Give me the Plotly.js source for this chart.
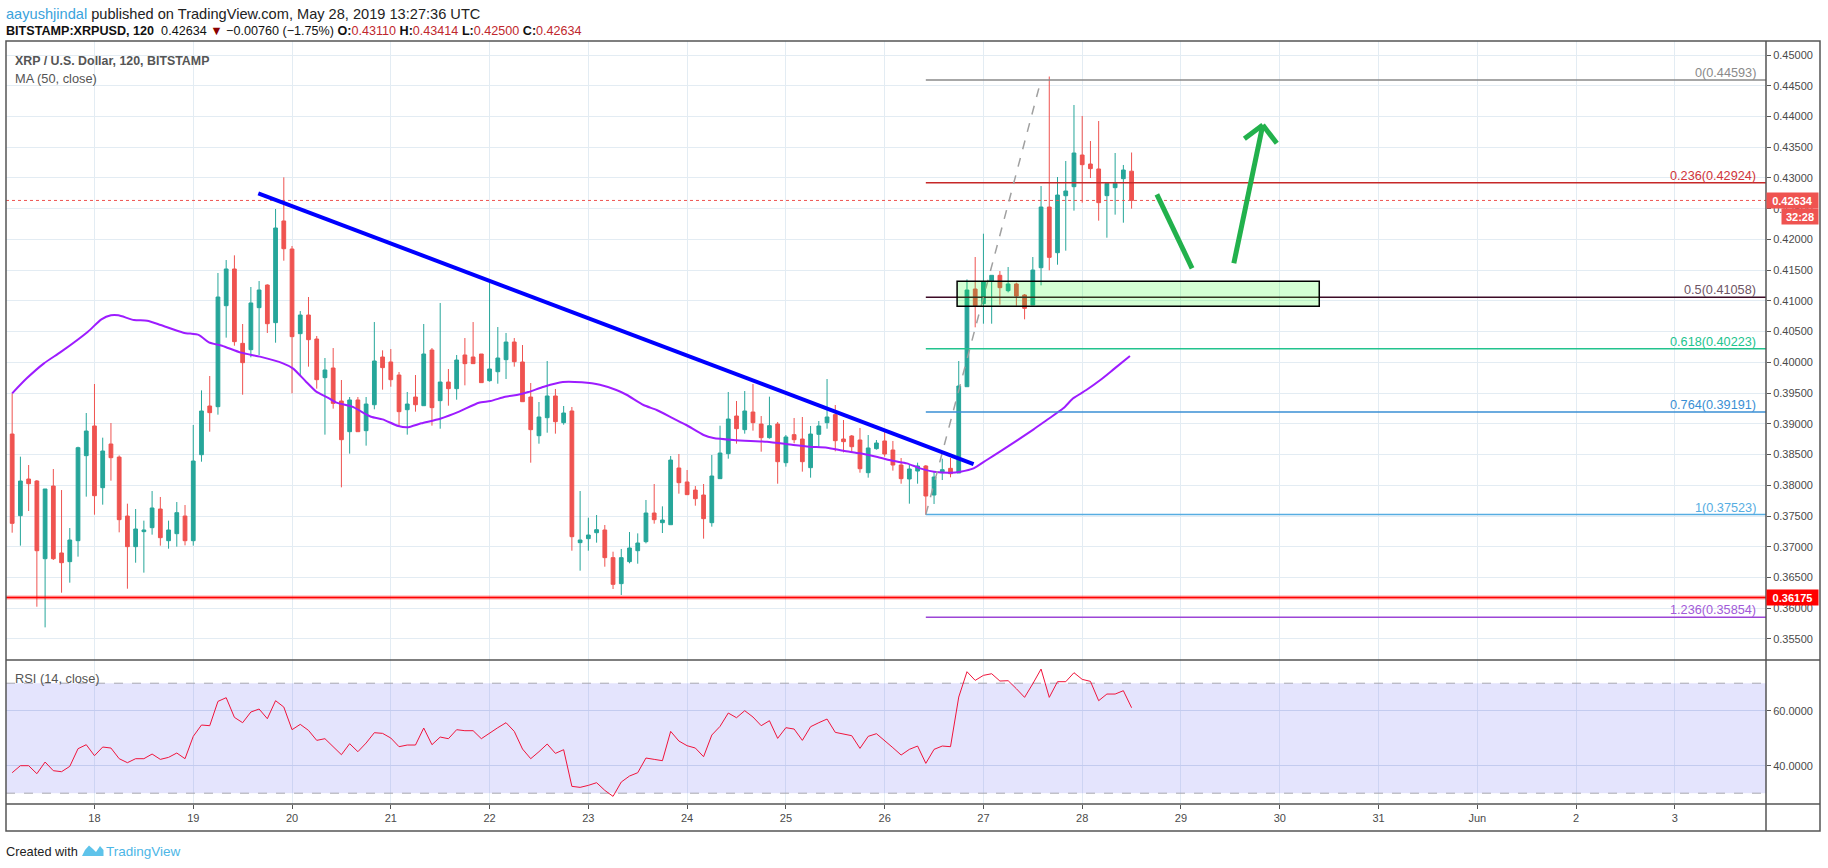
<!DOCTYPE html>
<html>
<head>
<meta charset="utf-8">
<script src="https://cdn.plot.ly/plotly-3.0.1.min.js"></script>
<style>html,body{margin:0;padding:0;background:#fff;}#chart{width:1828px;height:868px;}</style>
</head>
<body>
<div id="chart"></div>
<script>
// ---------- DATA ----------
const startTime = "2019-05-17 04:00"; // first 2h candle
const openPrice = [0.38834,0.37506,0.38102,0.38070,0.36806,0.37988,0.36899,0.36758,0.37099,0.38482,0.38965,0.37961,0.38672,0.38459,0.37500,0.37002,0.37246,0.37311,0.37614,0.37099,0.37213,0.37500,0.37099,0.38498,0.39290,0.39279,0.40922,0.41519,0.40309,0.40206,0.40890,0.41258,0.40646,0.42300,0.41844,0.40467,0.40770,0.40380,0.39751,0.39908,0.39371,0.38872,0.39388,0.38889,0.39311,0.40087,0.40006,0.39794,0.39230,0.39436,0.39295,0.40201,0.39377,0.39680,0.39572,0.40120,0.40087,0.40136,0.39702,0.39848,0.40044,0.40331,0.40006,0.39436,0.38807,0.39100,0.39453,0.39019,0.39209,0.37067,0.37132,0.37229,0.37273,0.36823,0.36400,0.36758,0.36936,0.37083,0.37549,0.37392,0.37359,0.38281,0.38054,0.37923,0.37842,0.37392,0.38108,0.38515,0.39127,0.38905,0.39192,0.38997,0.38775,0.38997,0.38368,0.38824,0.38753,0.38287,0.38829,0.39019,0.39149,0.38753,0.38802,0.38737,0.38205,0.38596,0.38721,0.38574,0.38330,0.38103,0.38232,0.38314,0.37842,0.38205,0.38276,0.38200,0.39604,0.41193,0.40955,0.41323,0.41416,0.41166,0.41275,0.41096,0.40933,0.41540,0.42527,0.41784,0.42711,0.42858,0.43373,0.43227,0.43146,0.42712,0.42842,0.42988,0.43110];
const highPrice = [0.39496,0.38466,0.38330,0.38086,0.37940,0.38265,0.37923,0.37305,0.38628,0.39176,0.39648,0.38775,0.39013,0.38486,0.37701,0.37614,0.37425,0.37907,0.37810,0.37425,0.37728,0.37679,0.38981,0.39545,0.39778,0.41454,0.41665,0.41741,0.40624,0.41226,0.41323,0.41269,0.42495,0.43010,0.41893,0.40835,0.41063,0.40429,0.40071,0.40233,0.39713,0.39436,0.39436,0.39436,0.40656,0.40196,0.40217,0.39843,0.39518,0.39794,0.40624,0.40233,0.40966,0.39892,0.40120,0.40396,0.40656,0.40136,0.41323,0.40575,0.40478,0.40396,0.40282,0.39664,0.39355,0.40022,0.39567,0.39290,0.39274,0.37907,0.37473,0.37517,0.37354,0.36920,0.36964,0.37240,0.37218,0.37761,0.38021,0.37658,0.38477,0.38509,0.38249,0.37988,0.38021,0.38493,0.38970,0.39518,0.39371,0.39534,0.39648,0.39127,0.39442,0.39030,0.38818,0.39095,0.39111,0.38965,0.39046,0.39729,0.39306,0.39062,0.38818,0.38932,0.38818,0.38737,0.38867,0.38721,0.38444,0.38330,0.38368,0.38330,0.38222,0.38433,0.38444,0.40022,0.41350,0.41714,0.42093,0.41416,0.41486,0.41551,0.41296,0.41112,0.41714,0.42869,0.44650,0.43015,0.43276,0.44187,0.44008,0.43601,0.43926,0.42912,0.43406,0.43211,0.43414];
const lowPrice = [0.37229,0.37018,0.37582,0.36025,0.35689,0.36785,0.36253,0.36416,0.36839,0.37815,0.37522,0.37685,0.38075,0.37235,0.36318,0.36741,0.36579,0.37197,0.37018,0.36969,0.37002,0.37023,0.37018,0.38384,0.38872,0.39149,0.40402,0.40271,0.39474,0.40082,0.40120,0.40478,0.40320,0.41654,0.39496,0.39783,0.39930,0.39572,0.38824,0.39247,0.37967,0.38515,0.38872,0.38645,0.39236,0.39556,0.39604,0.38954,0.38824,0.39198,0.39295,0.38970,0.38921,0.39295,0.39393,0.39626,0.39979,0.39670,0.39686,0.39653,0.39729,0.39930,0.39360,0.38368,0.38677,0.38856,0.38840,0.38986,0.36936,0.36611,0.36936,0.37067,0.36676,0.36313,0.36215,0.36731,0.36725,0.37056,0.37376,0.37224,0.37359,0.37864,0.37842,0.37668,0.37132,0.37327,0.38108,0.38433,0.38677,0.38840,0.38889,0.38547,0.38759,0.38026,0.38303,0.38683,0.38222,0.38124,0.38628,0.38921,0.38553,0.38536,0.38547,0.38205,0.38124,0.38580,0.38466,0.38238,0.38026,0.37701,0.38026,0.37522,0.37696,0.38086,0.38130,0.38200,0.39604,0.40570,0.40629,0.40629,0.40938,0.41139,0.40922,0.40700,0.40933,0.41253,0.41497,0.41589,0.41817,0.42468,0.42598,0.42999,0.42305,0.42028,0.42403,0.42272,0.42500];
const closePrice = [0.37381,0.38070,0.38026,0.36936,0.37940,0.36806,0.36741,0.37110,0.38612,0.38883,0.37831,0.38558,0.38449,0.37441,0.37002,0.37289,0.37273,0.37631,0.37148,0.37273,0.37555,0.37099,0.38395,0.39209,0.39182,0.41063,0.41519,0.40337,0.39995,0.40966,0.41177,0.40629,0.42186,0.41849,0.40418,0.40770,0.40369,0.39718,0.39876,0.39333,0.38742,0.39388,0.38872,0.39322,0.40022,0.39914,0.39718,0.39198,0.39322,0.39311,0.40136,0.39263,0.39680,0.39572,0.40038,0.39979,0.39979,0.39670,0.39892,0.40071,0.40331,0.40011,0.39360,0.38905,0.39111,0.39453,0.39035,0.39176,0.37164,0.37110,0.37191,0.37278,0.36823,0.36389,0.36823,0.36980,0.37061,0.37549,0.37441,0.37435,0.38411,0.38043,0.37848,0.37782,0.37457,0.38151,0.38525,0.39078,0.38921,0.39209,0.39019,0.38775,0.38970,0.38384,0.38786,0.38742,0.38384,0.38834,0.38965,0.39111,0.38726,0.38710,0.38628,0.38270,0.38607,0.38688,0.38509,0.38330,0.38108,0.38265,0.38314,0.37826,0.38135,0.38254,0.38189,0.39615,0.41177,0.40922,0.41313,0.41416,0.41215,0.41275,0.41079,0.40879,0.41502,0.42527,0.41708,0.42722,0.42788,0.43406,0.43216,0.43151,0.42598,0.42912,0.42912,0.43129,0.42634];
const rsiValue = [37.45,40.0,40.0,37.09,41.33,38.18,37.82,39.76,46.18,47.64,43.64,46.79,46.42,42.55,41.09,42.55,42.55,44.24,42.30,43.03,44.61,42.55,50.67,54.79,54.55,63.39,64.73,57.58,55.64,59.52,60.61,57.09,63.64,61.33,53.09,55.03,52.85,49.21,49.82,47.03,44.0,48.0,45.09,48.24,52.0,51.76,50.06,46.91,47.52,47.52,53.70,47.64,50.42,49.82,53.09,52.73,52.73,49.82,51.88,53.82,55.64,52.48,46.06,42.55,45.09,47.88,44.48,45.82,32.48,32.12,32.85,33.82,31.03,28.85,34.06,36.24,37.45,42.79,42.30,41.82,52.48,48.97,47.27,46.42,43.27,51.15,54.30,59.15,57.45,60.0,57.70,54.55,56.36,49.94,53.82,53.33,49.21,54.18,55.64,56.97,52.12,51.64,50.91,46.30,50.67,51.64,49.21,46.55,43.88,45.94,47.15,40.85,45.94,47.15,46.91,64.97,74.18,71.03,72.85,73.45,70.79,70.91,68.0,64.85,69.82,75.15,64.85,70.55,70.55,73.82,71.39,70.67,63.64,66.06,66.06,67.27,61.09];
// MA(50) read at candle positions
const maCandle = [0,1.77,3.86,5.96,9.2,10.84,12.0,12.9,14.8,16.4,18.05,20.8,22.7,23.9,25.5,27.8,30.1,32.9,34.1,35.7,36.9,38.5,39.4,41.3,43.6,45.0,46.9,48.0,49.7,52.0,54.3,56.7,58.1,59.9,61.3,62.7,64.6,66.9,69.2,71.4,73.4,74.7,76.7,78.3,80.3,81.9,84.0,85.2,87.6,89.7,91.7,94.9,96.9,99.0,101.0,103.0,105.0,107.1,108.7,110.3,112.0,114.0,115.2,116.8,118.4,120.0,124.1,125.7,127.7,128.9,130.5,132.2,133.8,135.8];
const maValue = [0.39496,0.39740,0.39984,0.40174,0.40499,0.40700,0.40765,0.40765,0.40689,0.40678,0.40608,0.40483,0.40444,0.40326,0.40271,0.40158,0.40093,0.39984,0.39903,0.39686,0.39529,0.39415,0.39344,0.39279,0.39116,0.39073,0.38965,0.38943,0.39008,0.39084,0.39198,0.39344,0.39371,0.39441,0.39469,0.39517,0.39604,0.39680,0.39675,0.39636,0.39550,0.39469,0.39306,0.39225,0.39089,0.38981,0.38818,0.38769,0.38737,0.38721,0.38710,0.38656,0.38628,0.38612,0.38563,0.38520,0.38466,0.38395,0.38357,0.38276,0.38222,0.38205,0.38222,0.38276,0.38412,0.38547,0.38910,0.39062,0.39252,0.39415,0.39550,0.39713,0.39886,0.40103];
// Fibonacci retracement
const fibRatio = ["0","0.236","0.5","0.618","0.764","1","1.236"];
const fibLevel = [0.44593,0.42924,0.41058,0.40223,0.39191,0.37523,0.35854];
const fibStartCandle = 111, fibTopCandle = 125;
// Other drawn levels
const supportLevel = 0.36175;
const lastPrice = 0.42634;
const countdown = "32:28";
const trendCandle = [29.9,116.8], trendPrice = [0.42750,0.38346];
const zoneCandle = [114.8,158.8], zonePrice = [0.40911,0.41318];
const arrowDownCandle = [139.07,143.35], arrowDownPrice = [0.42734,0.41530];
const arrowUpCandle = [148.42,151.94], arrowUpPrice = [0.41611,0.43861];
const arrowHeadCandle = [149.7,151.94,153.64], arrowHeadPrice = [0.43638,0.43861,0.43563];
const dayTickDates = ["2019-05-18","2019-05-19","2019-05-20","2019-05-21","2019-05-22","2019-05-23","2019-05-24","2019-05-25","2019-05-26","2019-05-27","2019-05-28","2019-05-29","2019-05-30","2019-05-31","2019-06-01","2019-06-02","2019-06-03"];
const dayTickLabels = ["18","19","20","21","22","23","24","25","26","27","28","29","30","31","Jun","2","3"];
const priceTicks = [0.355,0.36,0.365,0.37,0.375,0.38,0.385,0.39,0.395,0.40,0.405,0.41,0.415,0.42,0.425,0.43,0.435,0.44,0.445,0.45];
const rsiTicks = [40,60], rsiTickLabels = ["40.0000","60.0000"];

// ---------- helpers ----------
const T0 = new Date(startTime.replace(' ','T')+':00Z').getTime();
function tAt(k){ return new Date(T0 + k*7200000).toISOString().replace('T',' ').slice(0,19); }
const times = openPrice.map((_,k)=>tAt(k));
const xRange = ["2019-05-17 02:30","2019-06-03 22:09"];
const L=6, R=1766, TOP=41, BOT=804;
const px = p => (p-L)/(R-L);
const py = p => (BOT-p)/(BOT-TOP);
const priceDomainBottom = py(660);

const FONT = "Liberation Sans, Arial, sans-serif";
const NARROW = "Liberation Sans Narrow, Liberation Sans, Arial, sans-serif";
const fibColor = ["#8a8a8a","#c62828","#3d0b26","#22c38e","#3a8fd4","#56ade2","#9c45d6"];
const fibTextColor = ["#8a8a8a","#d0343a","#6e5565","#22c38e","#3a8fd4","#56ade2","#a25bd8"];

const traces = [
  {type:'candlestick', x:times, open:openPrice, high:highPrice, low:lowPrice, close:closePrice,
   xaxis:'x', yaxis:'y', whiskerwidth:0,
   increasing:{line:{color:'#26a69a',width:1}, fillcolor:'#26a69a'},
   decreasing:{line:{color:'#ef5350',width:1}, fillcolor:'#ef5350'},
   hoverinfo:'skip', showlegend:false},
  {type:'scatter', mode:'lines', x:maCandle.map(tAt), y:maValue, xaxis:'x', yaxis:'y',
   line:{color:'#9d1cff', width:2, shape:'spline', smoothing:0.6}, hoverinfo:'skip', showlegend:false},
  {type:'scatter', mode:'lines', x:times, y:rsiValue, xaxis:'x2', yaxis:'y2',
   line:{color:'#f0143c', width:1}, hoverinfo:'skip', showlegend:false}
];

const shapes = [];
const annotations = [];
// RSI band
shapes.push({type:'rect', xref:'x2', yref:'y2', x0:xRange[0], x1:xRange[1], y0:30, y1:70, fillcolor:'rgba(120,120,245,0.2)', line:{width:0}, layer:'between'});
[30,70].forEach(v=>shapes.push({type:'line', xref:'x2', yref:'y2', x0:xRange[0], x1:xRange[1], y0:v, y1:v, line:{color:'#a8a8b0', width:1, dash:'dash'}, layer:'between'}));
// support line
shapes.push({type:'line', xref:'paper', yref:'y', x0:0, x1:1, y0:supportLevel, y1:supportLevel, line:{color:'rgba(255,0,0,0.35)', width:4}});
shapes.push({type:'line', xref:'paper', yref:'y', x0:0, x1:1, y0:supportLevel, y1:supportLevel, line:{color:'#ff0000', width:1.5}});
// last price dotted
shapes.push({type:'line', xref:'paper', yref:'y', x0:0, x1:1, y0:lastPrice, y1:lastPrice, line:{color:'#ef5350', width:1, dash:'dot'}});
// fib lines
fibLevel.forEach((v,k)=>{
  shapes.push({type:'line', xref:'x', yref:'y', x0:tAt(fibStartCandle), x1:xRange[1], y0:v, y1:v, line:{color:fibColor[k], width:1.5}});
  annotations.push({xref:'paper', yref:'y', x:px(1757), y:v, xanchor:'right', yanchor:'bottom', showarrow:false,
    text:fibRatio[k]+'('+v.toFixed(5)+')', font:{family:FONT, size:12.7, color:fibTextColor[k]}, borderpad:0, yshift:-1});
});
// fib diagonal
shapes.push({type:'line', xref:'x', yref:'y', x0:tAt(fibStartCandle), x1:tAt(fibTopCandle), y0:fibLevel[5], y1:fibLevel[0], line:{color:'#a0a0a0', width:1.5, dash:'dash'}});
// trend line
shapes.push({type:'line', xref:'x', yref:'y', x0:tAt(trendCandle[0]), x1:tAt(trendCandle[1]), y0:trendPrice[0], y1:trendPrice[1], line:{color:'#0000ff', width:4}});
// zone
shapes.push({type:'rect', xref:'x', yref:'y', x0:tAt(zoneCandle[0]), x1:tAt(zoneCandle[1]), y0:zonePrice[0], y1:zonePrice[1], fillcolor:'rgba(0,255,0,0.17)', line:{color:'#000', width:1.5}});
// green arrows
const arrowStyle = {color:'#22b14c', width:5};
shapes.push({type:'line', xref:'x', yref:'y', x0:tAt(arrowDownCandle[0]), x1:tAt(arrowDownCandle[1]), y0:arrowDownPrice[0], y1:arrowDownPrice[1], line:arrowStyle});
shapes.push({type:'line', xref:'x', yref:'y', x0:tAt(arrowUpCandle[0]), x1:tAt(arrowUpCandle[1]), y0:arrowUpPrice[0], y1:arrowUpPrice[1], line:arrowStyle});
shapes.push({type:'line', xref:'x', yref:'y', x0:tAt(arrowHeadCandle[0]), x1:tAt(arrowHeadCandle[1]), y0:arrowHeadPrice[0], y1:arrowHeadPrice[1], line:arrowStyle});
shapes.push({type:'line', xref:'x', yref:'y', x0:tAt(arrowHeadCandle[1]), x1:tAt(arrowHeadCandle[2]), y0:arrowHeadPrice[1], y1:arrowHeadPrice[2], line:arrowStyle});
// frame
const frameCol = '#555555';
shapes.push({type:'rect', xref:'paper', yref:'paper', x0:0, x1:px(1820), y0:py(831), y1:1, line:{color:frameCol, width:1.5}, fillcolor:'rgba(0,0,0,0)'});
shapes.push({type:'line', xref:'paper', yref:'paper', x0:1, x1:1, y0:py(831), y1:1, line:{color:frameCol, width:1.5}});
shapes.push({type:'line', xref:'paper', yref:'paper', x0:0, x1:px(1820), y0:priceDomainBottom, y1:priceDomainBottom, line:{color:frameCol, width:1.5}});
shapes.push({type:'line', xref:'paper', yref:'paper', x0:0, x1:px(1820), y0:0, y1:0, line:{color:frameCol, width:1.5}});
// TradingView logo (small cloud-like mark)
const logoPts = [[82,856],[85,850],[89,845.5],[93,849],[96,852],[100,846],[103.5,850],[103.5,856]];
shapes.push({type:'path', xref:'paper', yref:'paper', path:'M'+logoPts.map(p=>px(p[0])+','+py(p[1])).join(' L')+' Z', fillcolor:'#5ec3ea', line:{width:0}});

// price labels on axis
annotations.push({xref:'paper', yref:'y', x:1, y:lastPrice, xanchor:'left', yanchor:'middle', showarrow:false, text:'<b>'+lastPrice.toFixed(5)+'</b>',
  bgcolor:'#ef5350', font:{family:FONT, size:11, color:'#fff'}, width:50, height:14, borderpad:0.5, align:'center'});
annotations.push({xref:'paper', yref:'y', x:px(1781), y:lastPrice, xanchor:'left', yanchor:'middle', yshift:-16.5, showarrow:false, text:'<b>'+countdown+'</b>',
  bgcolor:'#ef5350', font:{family:FONT, size:11, color:'#fff'}, width:35, height:14, borderpad:0.5, align:'center'});
annotations.push({xref:'paper', yref:'y', x:1, y:supportLevel, xanchor:'left', yanchor:'middle', showarrow:false, text:'<b>'+supportLevel.toFixed(5)+'</b>',
  bgcolor:'#ff0000', font:{family:FONT, size:11, color:'#fff'}, width:50, height:14, borderpad:0.5, align:'center'});

// texts
function txt(x,y,text,size,color,family){annotations.push({xref:'paper',yref:'paper',x:px(x),y:py(y),xanchor:'left',yanchor:'middle',showarrow:false,text:text,font:{family:family||NARROW,size:size,color:color},borderpad:0});}
txt(5,14,"<span style='color:#3aa3dc'>aayushjindal</span> published on TradingView.com, May 28, 2019 13:27:36 UTC",14.6,'#222');
const red = s=>"<span style='color:#c0272d'>"+s+"</span>";
txt(5,31,"<b>BITSTAMP:XRPUSD, 120</b>  0.42634 <span style='color:#8b0000'>▼</span> −0.00760 (−1.75%) <b>O:</b>"+red("0.43110")+" <b>H:</b>"+red("0.43414")+" <b>L:</b>"+red("0.42500")+" <b>C:</b>"+red("0.42634"),12.6,'#111');
txt(14,61,"<b>XRP / U.S. Dollar, 120, BITSTAMP</b>",12.4,'#555');
txt(14,78,"MA (50, close)",12.8,'#555');
txt(14,678,"RSI (14, close)",12.8,'#555');
txt(5,851,"Created with",12.8,'#222');
txt(105,851,"TradingView",13.5,'#4cb6e6');

const gridCol = '#e3ecf3';
const layout = {
  width:1828, height:868, margin:{l:L, r:1828-R, t:TOP, b:868-BOT},
  paper_bgcolor:'#fff', plot_bgcolor:'#fff', showlegend:false,
  font:{family:FONT, size:11, color:'#4a4a4a'},
  xaxis:{type:'date', range:xRange, domain:[0,1], anchor:'y', rangeslider:{visible:false},
    tickvals:dayTickDates, ticktext:dayTickLabels, showticklabels:false, ticks:'', showgrid:true, gridcolor:gridCol, gridwidth:1, zeroline:false, showline:false, fixedrange:true},
  xaxis2:{type:'date', range:xRange, domain:[0,1], anchor:'y2', matches:'x',
    tickvals:dayTickDates, ticktext:dayTickLabels, showticklabels:true, ticks:'outside', ticklen:4, tickcolor:'#555', tickfont:{size:11, color:'#4a4a4a'},
    showgrid:true, gridcolor:gridCol, zeroline:false, showline:false},
  yaxis:{domain:[priceDomainBottom,1], range:[0.35158,0.45228], side:'right', tickvals:priceTicks, tickformat:'.5f',
    ticks:'outside', ticklen:4, tickcolor:'#555', tickfont:{size:11, color:'#4a4a4a'}, showgrid:true, gridcolor:gridCol, zeroline:false, showline:false},
  yaxis2:{domain:[0,priceDomainBottom], range:[26.07,78.44], side:'right', tickvals:rsiTicks, ticktext:rsiTickLabels,
    ticks:'outside', ticklen:4, tickcolor:'#555', tickfont:{size:11, color:'#4a4a4a'}, showgrid:true, gridcolor:'#d6e0ee', zeroline:false, showline:false},
  boxgap:0.35,
  shapes:shapes, annotations:annotations
};
Plotly.newPlot('chart', traces, layout, {staticPlot:true, displayModeBar:false});
</script>
</body>
</html>
